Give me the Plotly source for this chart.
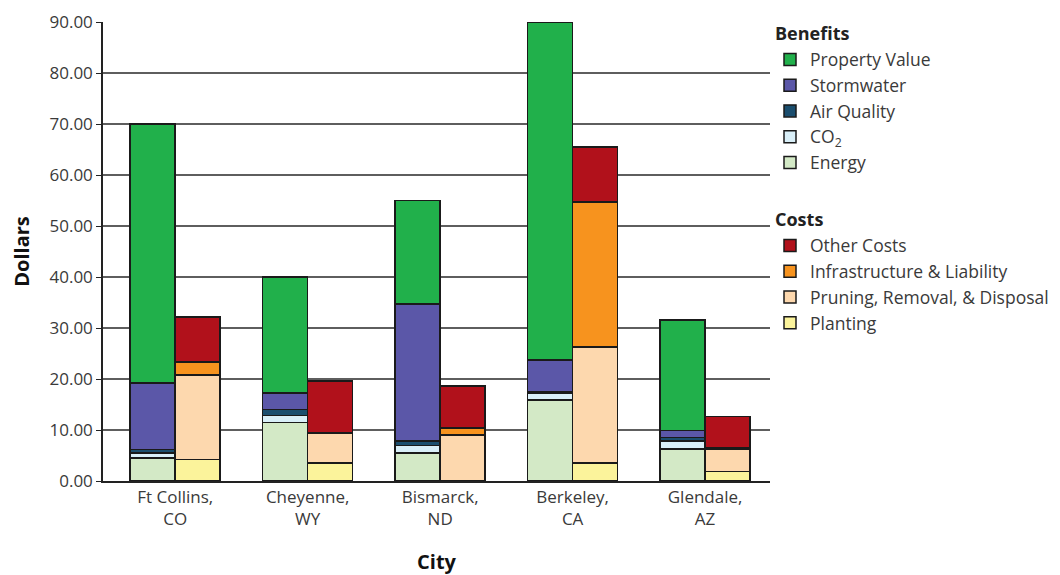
import plotly.graph_objects as go

cities = ["Ft Collins,<br>CO", "Cheyenne,<br>WY", "Bismarck,<br>ND", "Berkeley,<br>CA", "Glendale,<br>AZ"]

# Benefits (bottom to top)
energy = [4.5, 11.5, 5.5, 15.9, 6.3]
co2 = [1.0, 1.3, 1.5, 1.3, 1.5]
air_quality = [0.7, 1.2, 0.8, 0.3, 0.7]
stormwater = [13.0, 3.3, 26.9, 6.2, 1.4]
property_value = [50.8, 22.7, 20.3, 66.3, 21.7]

# Costs (bottom to top)
planting = [4.2, 3.5, 0.0, 3.5, 1.9]
pruning = [16.6, 5.9, 9.0, 22.8, 4.4]
infrastructure = [2.5, 0.0, 1.4, 28.4, 0.3]
other_costs = [8.9, 10.2, 8.2, 10.8, 6.0]

benefit_series = [
    ("Energy", energy, "#d3e9c6"),
    ("CO<sub>2</sub>", co2, "#d9eff8"),
    ("Air Quality", air_quality, "#1b4e6e"),
    ("Stormwater", stormwater, "#5b57a8"),
    ("Property Value", property_value, "#21b04b"),
]
cost_series = [
    ("Planting", planting, "#fbf39b"),
    ("Pruning, Removal, & Disposal", pruning, "#fdd8ae"),
    ("Infrastructure & Liability", infrastructure, "#f7931e"),
    ("Other Costs", other_costs, "#b1111b"),
]

idx = list(range(len(cities)))
offset = 0.17
width = 0.34

fig = go.Figure()
n_b = len(benefit_series)
for k, (name, vals, color) in enumerate(benefit_series):
    fig.add_trace(go.Bar(
        x=[i - offset for i in idx], y=vals, width=width, name=name,
        marker=dict(color=color, line=dict(color="#1a1a1a", width=1.5)),
        legendgroup="Benefits", legendgrouptitle=dict(text="<b>Benefits</b>"),
        legendrank=n_b - k,
    ))
n_c = len(cost_series)
for k, (name, vals, color) in enumerate(cost_series):
    fig.add_trace(go.Bar(
        x=[i + offset for i in idx], y=vals, width=width, name=name,
        marker=dict(color=color, line=dict(color="#1a1a1a", width=1.5)),
        legendgroup="Costs", legendgrouptitle=dict(text="<b>Costs</b>"),
        legendrank=100 + n_c - k,
    ))

font_family = "Open Sans, Liberation Sans, sans-serif"
fig.update_layout(
    barmode="stack",
    width=1052, height=567,
    margin=dict(l=95, r=290, t=14, b=94, autoexpand=False),
    paper_bgcolor="white", plot_bgcolor="white",
    font=dict(family=font_family, size=16, color="#3a3a3a"),
    legend=dict(
        x=1.0, xanchor="left", y=1.015, yanchor="top",
        traceorder="grouped", tracegroupgap=31, maxheight=560,
        font=dict(size=17.5, color="#3a3a3a"),
        grouptitlefont=dict(size=18, color="#222222"),
    ),
    xaxis=dict(
        range=[-0.545, 4.49], tickvals=idx, ticktext=cities,
        showline=True, linecolor="#222", linewidth=1.5,
        showgrid=False, ticks="", zeroline=False, automargin=False,
        tickfont=dict(size=17),
        title=dict(text="<b>City</b>", font=dict(size=20, color="#111"), standoff=26),
    ),
    yaxis=dict(
        range=[0, 90], dtick=10, tickformat=".2f",
        showline=True, linecolor="#222", linewidth=1.5,
        showgrid=True, gridcolor="#5e5e5e", gridwidth=1.6,
        ticks="outside", ticklen=5, tickcolor="#222",
        zeroline=False, automargin=False,
        tickfont=dict(size=17),
        title=dict(text="<b>Dollars</b>", font=dict(size=20, color="#111"), standoff=14),
    ),
)

fig.write_html("out.html")
